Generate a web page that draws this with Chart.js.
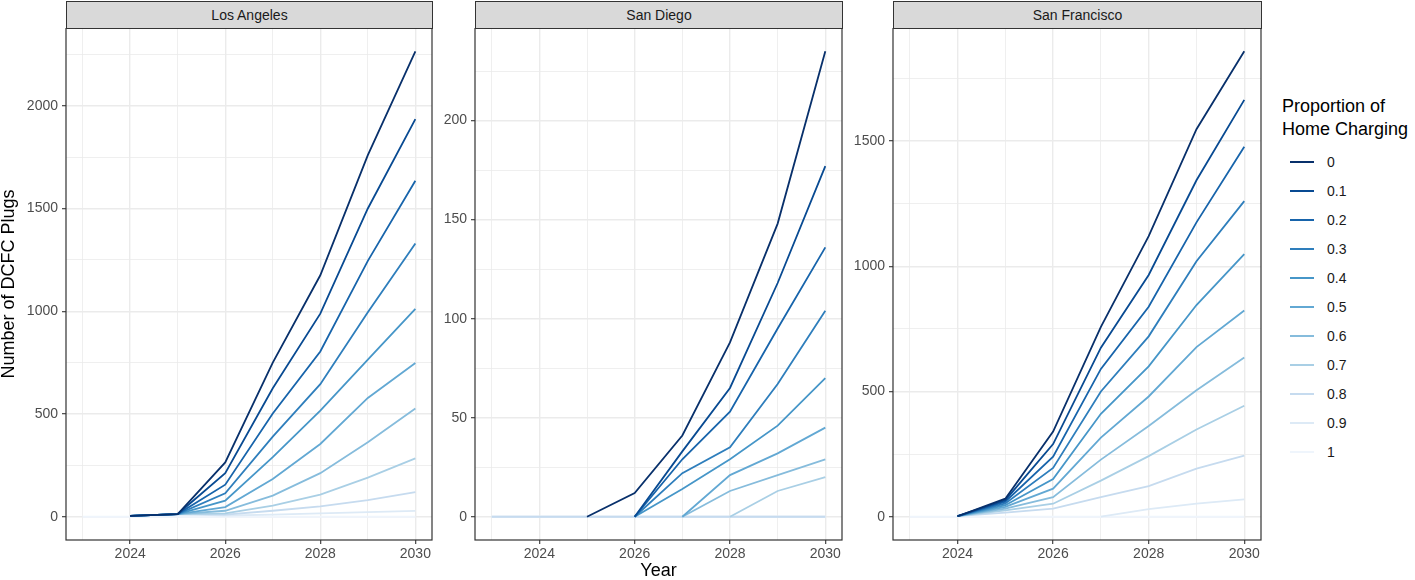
<!DOCTYPE html>
<html>
<head>
<meta charset="utf-8">
<script src="https://cdn.jsdelivr.net/npm/chart.js@4.4.1/dist/chart.umd.min.js"></script>
<style>
  body { margin: 0; background: #fff; font-family: "Liberation Sans", Arial, sans-serif; }
  #wrap { position: relative; width: 1415px; height: 580px; overflow: hidden; background: #fff; }
  #wrap canvas { position: absolute; top: 28px; }
  .strip {
    position: absolute; top: 1px; height: 28px; box-sizing: border-box;
    background: #d9d9d9; border: 1px solid #333; color: #1a1a1a;
    font-size: 14px; line-height: 26px; text-align: center;
  }
  .ltitle { position: absolute; left: 1282px; top: 95px; font-size: 18px; line-height: 23px; color: #000; }
  .lkey { position: absolute; left: 1290px; width: 24px; height: 2px; }
  .llab { position: absolute; left: 1327px; font-size: 14px; line-height: 16px; color: #1a1a1a; }
</style>
</head>
<body>
<div id="wrap">
  <canvas id="la" width="440" height="552" style="left:0px"></canvas>
  <canvas id="sd" width="410" height="552" style="left:440px"></canvas>
  <canvas id="sf" width="419" height="552" style="left:850px"></canvas>
  <div class="ltitle">Proportion of<br>Home Charging</div>
</div>
<script>
const years = [2023, 2024, 2025, 2026, 2027, 2028, 2029, 2030];
const shares = ["0", "0.1", "0.2", "0.3", "0.4", "0.5", "0.6", "0.7", "0.8", "0.9", "1"];
const colors = ["#08306B", "#084A92", "#1764AB", "#2E7EBC", "#4696C8", "#62A8D3",
                "#86BCDC", "#A9CFE5", "#C6DBEF", "#DDEAF6", "#EFF5FC"];

// one row per share of home charging, one value per year
const losAngeles = [
  [null, 4, 13, 264, 750, 1175, 1760, 2265],
  [null, 4, 13, 212, 625, 988, 1500, 1935],
  [null, 4, 13, 156, 502, 804, 1245, 1635],
  [null, 4, 13, 114, 390, 645, 995, 1330],
  [null, 4, 13, 78, 290, 516, 765, 1011],
  [null, 4, 13, 47, 184, 354, 578, 748],
  [null, 4, 13, 29, 103, 212, 362, 527],
  [null, 4, 13, 16, 54, 108, 190, 284],
  [null, 4, 13, 10, 29, 50, 81, 120],
  [null, 4, 13, 6, 10, 16, 22, 28],
  [0, 0, 0, 0, 0, 0, 0, 0]
];
const sanDiego = [
  [null, null, 0, 12, 41, 88, 148, 235],
  [null, null, null, 0, 33, 65, 118, 177],
  [null, null, null, 0, 29, 53, 95, 136],
  [null, null, null, 0, 22, 35, 67, 104],
  [null, null, null, 0, 14, 29, 46, 70],
  [null, null, null, null, 0, 21, 32, 45],
  [null, null, null, null, 0, 13, 21, 29],
  [null, null, null, null, null, 0, 13, 20],
  [0, 0, 0, 0, 0, 0, 0, 0],
  [0, 0, 0, 0, 0, 0, 0, 0],
  [0, 0, 0, 0, 0, 0, 0, 0]
];
const sanFrancisco = [
  [null, 2, 72, 340, 758, 1120, 1547, 1858],
  [null, 2, 66, 290, 675, 965, 1343, 1664],
  [null, 2, 60, 240, 590, 838, 1175, 1477],
  [null, 2, 53, 195, 500, 720, 1020, 1260],
  [null, 2, 46, 150, 411, 600, 845, 1048],
  [null, 2, 39, 112, 316, 480, 677, 823],
  [null, 2, 32, 78, 228, 362, 505, 636],
  [null, 2, 25, 52, 144, 242, 348, 443],
  [null, 2, 16, 32, 78, 122, 192, 244],
  [null, null, null, null, 0, 30, 52, 69],
  [0, 0, 0, 0, 0, 0, 0, 0]
];

const yearBreaks = [2024, 2026, 2028, 2030];
const laBreaks = [0, 500, 1000, 1500, 2000];
const sdBreaks = [0, 50, 100, 150, 200];
const sfBreaks = [0, 500, 1000, 1500];

Chart.defaults.font.family = "'Liberation Sans', Arial, sans-serif";

const frame = {
  id: "frame",
  afterDraw(chart) {
    const { ctx, chartArea: a } = chart;
    ctx.save();
    ctx.strokeStyle = "#333333";
    ctx.lineWidth = 1.2;
    ctx.strokeRect(a.left, a.top, a.right - a.left, a.bottom - a.top);
    ctx.restore();
  }
};

function gridFor(breaks) {
  const major = v => breaks.some(b => Math.abs(b - v) < 1e-9);
  return {
    color: "#EBEBEB",
    lineWidth: c => (c.tick && major(c.tick.value) ? 1.4 : 0.8),
    tickColor: c => (c.tick && major(c.tick.value) ? "#333333" : "rgba(0,0,0,0)"),
    tickLength: 4,
    tickWidth: 1.1
  };
}

function panel(id, name, rows, breaks, axisW, yTitle, xTitle) {
  const vals = rows.flat().filter(v => v !== null);
  const top = Math.max(...vals);
  const pad = top * 0.05;
  const step = breaks[1] - breaks[0];
  const yTicks = [];
  for (let v = breaks[0]; v <= top + pad; v += step / 2) yTicks.push(v);
  const xPad = (years[years.length - 1] - years[0]) * 0.05;

  const datasets = rows.map((r, i) => ({
    label: shares[i],
    data: years.map((yr, j) => ({ x: yr, y: r[j] })),
    borderColor: colors[i],
    borderWidth: 1.8,
    pointRadius: 0,
    tension: 0,
    fill: false
  }));

  const chart = new Chart(document.getElementById(id), {
    type: "line",
    data: { datasets },
    options: {
      responsive: false,
      animation: false,
      devicePixelRatio: 1,
      layout: { autoPadding: false, padding: { top: 0, right: 8, bottom: 0, left: 0 } },
      plugins: { legend: { display: false }, tooltip: { enabled: false } },
      scales: {
        x: {
          type: "linear",
          min: years[0] - xPad,
          max: years[years.length - 1] + xPad,
          afterBuildTicks: s => { s.ticks = years.map(v => ({ value: v })); },
          afterFit: s => { s.height = 40; s.paddingLeft = 0; s.paddingRight = 0; },
          grid: gridFor(yearBreaks),
          border: { display: false },
          ticks: {
            autoSkip: false, maxRotation: 0, padding: 2,
            color: "#4D4D4D", font: { size: 14 },
            callback: v => (yearBreaks.includes(v) ? String(v) : "")
          },
          title: {
            display: !!xTitle, text: xTitle || "", color: "#000",
            font: { size: 18, lineHeight: 1 }, padding: 0
          }
        },
        y: {
          type: "linear",
          min: -pad,
          max: top + pad,
          afterBuildTicks: s => { s.ticks = yTicks.map(v => ({ value: v })); },
          afterFit: s => { s.width = axisW; s.paddingTop = 0; s.paddingBottom = 0; },
          grid: gridFor(breaks),
          border: { display: false },
          ticks: {
            padding: 4, color: "#4D4D4D", font: { size: 14 },
            callback: v => (breaks.includes(v) ? String(v) : "")
          },
          title: {
            display: !!yTitle, text: yTitle || "", color: "#000",
            font: { size: 18, lineHeight: 1 }, padding: 0
          }
        }
      }
    },
    plugins: [frame]
  });

  const canvas = document.getElementById(id);
  const a = chart.chartArea;
  const left = parseFloat(canvas.style.left) + a.left;
  const strip = document.createElement("div");
  strip.className = "strip";
  strip.style.left = left + "px";
  strip.style.width = (a.right - a.left + 1) + "px";
  strip.textContent = name;
  document.getElementById("wrap").appendChild(strip);
}

panel("la", "Los Angeles", losAngeles, laBreaks, 66, "Number of DCFC Plugs", null);
panel("sd", "San Diego", sanDiego, sdBreaks, 35, null, "Year");
panel("sf", "San Francisco", sanFrancisco, sfBreaks, 43, null, null);

const wrap = document.getElementById("wrap");
shares.forEach((s, i) => {
  const y = 162.3 + i * 28.94;
  const key = document.createElement("div");
  key.className = "lkey";
  key.style.top = (y - 1) + "px";
  key.style.background = colors[i];
  wrap.appendChild(key);
  const lab = document.createElement("div");
  lab.className = "llab";
  lab.style.top = (y - 8) + "px";
  lab.textContent = s;
  wrap.appendChild(lab);
});
</script>
</body>
</html>
